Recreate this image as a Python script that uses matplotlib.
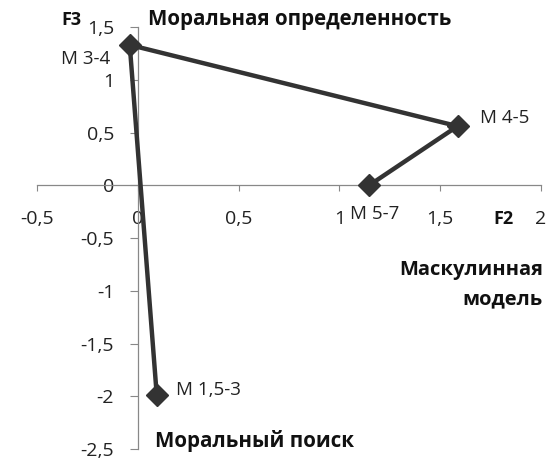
import matplotlib
matplotlib.use("Agg")
import matplotlib.pyplot as plt

plt.rcParams['font.family'] = ['Open Sans', 'DejaVu Sans']

names = ["M 1,5-3", "M 3-4", "M 4-5", "M 5-7"]
f2 = [0.094, -0.04, 1.586, 1.148]
f3 = [-1.99, 1.33, 0.56, 0.0]
label_offsets = [(14, 4), (-14, -10), (16, 6), (4, -21)]
label_ha = ["left", "right", "left", "center"]

xticks = [-0.5, 0, 0.5, 1, 1.5, 2]
xticklabels = ["-0,5", "0", "0,5", "1", "1,5", "2"]
yticks = [-2.5, -2, -1.5, -1, -0.5, 0, 0.5, 1, 1.5]
yticklabels = ["-2,5", "-2", "-1,5", "-1", "-0,5", "0", "0,5", "1", "1,5"]

fig = plt.figure(figsize=(5.53, 4.61), dpi=100)
ax = fig.add_axes([37/553, 1-449/461, (541-37)/553, (449-27)/461])
ax.set_xlim(-0.5, 2)
ax.set_ylim(-2.5, 1.5)

ax.plot(f2, f3, color='#333333', lw=3.2, marker='D', ms=11, mfc='#333333', mec='#333333', zorder=3)

for n, x, y, off, ha in zip(names, f2, f3, label_offsets, label_ha):
    ax.annotate(n, (x, y), xytext=off, textcoords='offset points', ha=ha, va='center',
                fontsize=13.5, color='#222222')

for s in ['top', 'right']:
    ax.spines[s].set_visible(False)
ax.spines['left'].set_position(('data', 0))
ax.spines['bottom'].set_position(('data', 0))
for s in ['left', 'bottom']:
    ax.spines[s].set_color('#888888')
    ax.spines[s].set_linewidth(0.9)

ax.set_xticks(xticks)
ax.set_xticklabels(xticklabels)
ax.set_yticks(yticks)
ax.set_yticklabels(yticklabels)
ax.tick_params(axis='both', direction='out', color='#888888', labelsize=14, labelcolor='#222222')
ax.tick_params(axis='x', length=4, pad=14)
ax.tick_params(axis='y', length=6, pad=11)
ax.patch.set_alpha(0)

bold = dict(fontweight='bold', color='#111111')
fig.text(61/553, 1-20/461, "F3", ha='left', va='center', fontsize=13, **bold)
fig.text(493/553, 1-219/461, "F2", ha='left', va='center', fontsize=13, **bold)
fig.text(148/553, 1-20/461, "Моральная определенность", ha='left', va='center', fontsize=14.8, **bold)
fig.text(543/553, 1-270/461, "Маскулинная", ha='right', va='center', fontsize=14.5, **bold)
fig.text(543/553, 1-299/461, "модель", ha='right', va='center', fontsize=14.5, **bold)
fig.text(155/553, 1-441/461, "Моральный поиск", ha='left', va='center', fontsize=14.8, **bold)

fig.savefig("out.png", dpi=100)
